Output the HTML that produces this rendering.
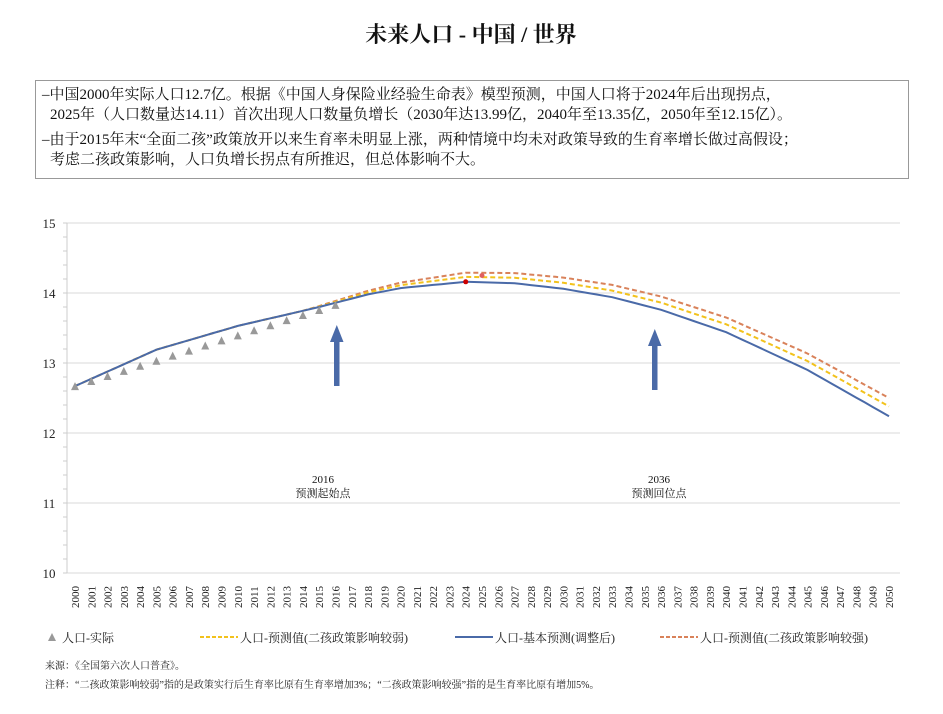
<!DOCTYPE html>
<html><head><meta charset="utf-8">
<style>
body{margin:0;background:#fff;}
svg text{font-family:"Liberation Serif","Noto Serif CJK SC","Noto Sans CJK SC",serif;}
</style></head>
<body>
<svg id="s" width="943" height="709" xmlns="http://www.w3.org/2000/svg">
<text x="471" y="42" text-anchor="middle" font-size="22" font-weight="bold" fill="#111">未来人口 - 中国 / 世界</text>
<rect x="35.5" y="80.5" width="873" height="98" fill="none" stroke="#999" stroke-width="1"/>
<g font-size="15" fill="#111">
<text x="42" y="99">–中国2000年实际人口12.7亿。根据《中国人身保险业经验生命表》模型预测，中国人口将于2024年后出现拐点，</text>
<text x="50" y="119">2025年（人口数量达14.11）首次出现人口数量负增长（2030年达13.99亿，2040年至13.35亿，2050年至12.15亿）。</text>
<text x="42" y="144">–由于2015年末“全面二孩”政策放开以来生育率未明显上涨，两种情境中均未对政策导致的生育率增长做过高假设；</text>
<text x="50" y="164">考虑二孩政策影响，人口负增长拐点有所推迟，但总体影响不大。</text>
</g>
<g id="grid"></g>
<g id="series"></g>
<rect x="334" y="340" width="5.5" height="46" fill="#4a6aa8"/>
<polygon points="330,342 343.5,342 336.8,325" fill="#4a6aa8"/>
<rect x="652" y="344" width="5.5" height="46" fill="#4a6aa8"/>
<polygon points="648,346 661.5,346 654.8,329" fill="#4a6aa8"/>
<g font-size="11" fill="#111" text-anchor="middle">
<text x="323" y="483">2016</text><text x="323" y="497">预测起始点</text>
<text x="659" y="483">2036</text><text x="659" y="497">预测回位点</text>
</g>
<g font-size="12" fill="#222">
<polygon points="48,641 52,633 56,641" fill="#999"/>
<text x="62" y="642">人口-实际</text>
<line x1="200" y1="637" x2="238" y2="637" stroke="#f2c21c" stroke-width="2" stroke-dasharray="4,2"/>
<text x="240" y="642">人口-预测值(二孩政策影响较弱)</text>
<line x1="455" y1="637" x2="493" y2="637" stroke="#4a6aa8" stroke-width="2"/>
<text x="495" y="642">人口-基本预测(调整后)</text>
<line x1="660" y1="637" x2="698" y2="637" stroke="#d9825a" stroke-width="2" stroke-dasharray="4,2"/>
<text x="700" y="642">人口-预测值(二孩政策影响较强)</text>
</g>
<g font-size="10" fill="#222">
<text x="45" y="669">来源：《全国第六次人口普查》。</text>
<text x="45" y="688">注释：“二孩政策影响较弱”指的是政策实行后生育率比原有生育率增加3%；“二孩政策影响较强”指的是生育率比原有增加5%。</text>
</g>
</svg>
<script>
var NS="http://www.w3.org/2000/svg";
function el(t,a,p){var e=document.createElementNS(NS,t);for(var k in a)e.setAttribute(k,a[k]);if(p)p.appendChild(e);return e;}
var g=document.getElementById("grid"),S=document.getElementById("series");
function Y(v){return 573-(v-10)*70;}
function X(yr){return 75+(yr-2000)*16.28;}
for(var v=10;v<=15;v++){
 el("line",{x1:67,x2:900,y1:Y(v),y2:Y(v),stroke:"#d9d9d9","stroke-width":1},g);
 var t=el("text",{x:49,y:Y(v)+5,"font-size":13,"text-anchor":"middle",fill:"#222"},g);t.textContent=v;
}
for(var m=10;m<15;m+=0.2){el("line",{x1:63,x2:67,y1:Y(m),y2:Y(m),stroke:"#ccc"},g);}
el("line",{x1:67,x2:67,y1:223,y2:573,stroke:"#ccc"},g);
for(var yr=2000;yr<=2050;yr++){
 var x=X(yr);var t=el("text",{x:0,y:0,"font-size":11,fill:"#222",transform:"translate("+(x+4)+",608) rotate(-90)"},g);t.textContent=yr;
}
var keys=[[2000,12.67],[2005,13.19],[2010,13.53],[2015,13.80],[2018,13.98],[2020,14.07],[2024,14.16],[2027,14.14],[2030,14.06],[2033,13.94],[2036,13.76],[2040,13.44],[2045,12.90],[2050,12.24]];
function base(yr){for(var i=0;i<keys.length-1;i++){var a=keys[i],b=keys[i+1];if(yr>=a[0]&&yr<=b[0]){return a[1]+(b[1]-a[1])*(yr-a[0])/(b[0]-a[0]);}}return 12.24;}
function off(yr,k){if(yr<=2014)return 0;if(yr<=2024)return k*0.5*(yr-2014)/10;return k*(0.5+0.5*(yr-2024)/26);}
function path(f){var d="";for(var y=2000;y<=2050;y+=0.5){d+=(d?"L":"M")+X(y).toFixed(1)+","+Y(f(y)).toFixed(1);}return d;}
el("path",{d:path(function(y){return base(y)+off(y,0.26);}),fill:"none",stroke:"#d9825a","stroke-width":2,"stroke-dasharray":"5,3"},S);
el("path",{d:path(function(y){return base(y)+off(y,0.14);}),fill:"none",stroke:"#f2c21c","stroke-width":2,"stroke-dasharray":"5,3"},S);
el("path",{d:path(base),fill:"none",stroke:"#4a6aa8","stroke-width":2},S);
for(var yr=2000;yr<=2016;yr++){var v=12.67+(13.83-12.67)*(yr-2000)/16;var x=X(yr),y=Y(v);
 el("polygon",{points:(x-4)+","+(y+4)+" "+x+","+(y-4)+" "+(x+4)+","+(y+4),fill:"#999"},S);}
el("circle",{cx:X(2024),cy:Y(14.16),r:2.5,fill:"#c00"},S);
el("circle",{cx:X(2025),cy:Y(14.25),r:2.5,fill:"#e06060"},S);
</script>
</body></html>
